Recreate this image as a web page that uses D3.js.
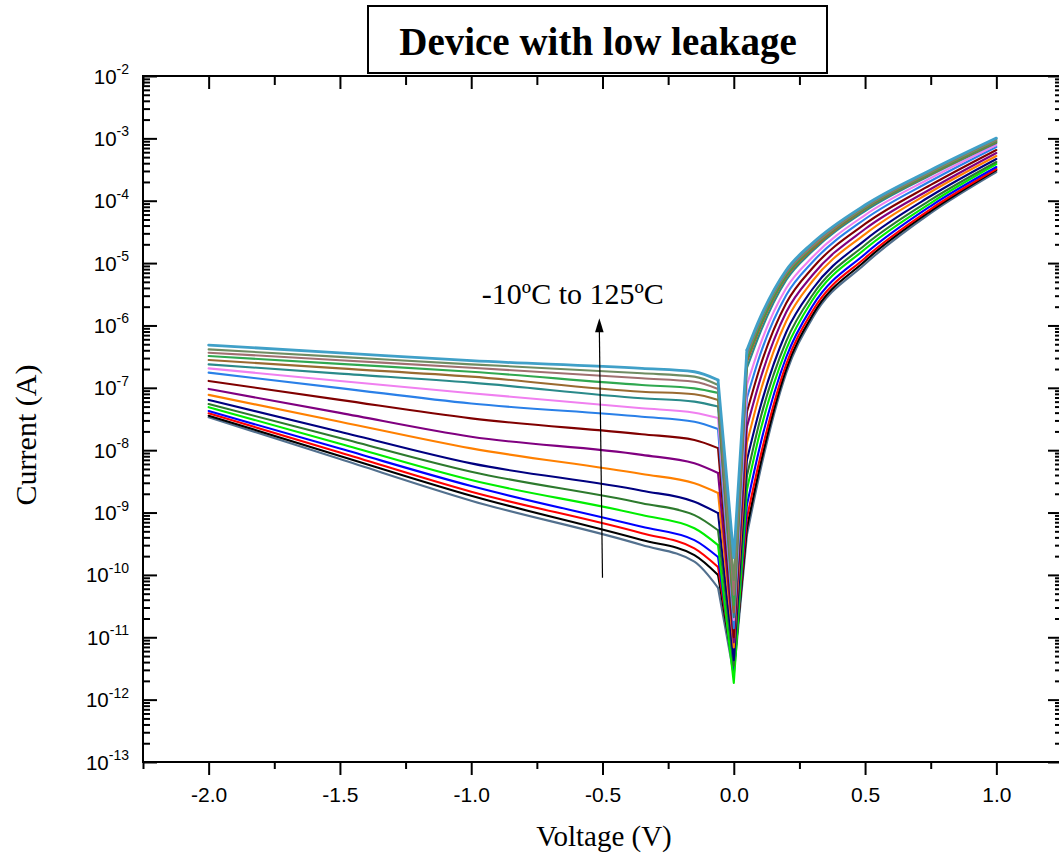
<!DOCTYPE html>
<html>
<head>
<meta charset="utf-8">
<script src="https://cdn.jsdelivr.net/npm/d3@7"></script>
<style>
  html, body { margin: 0; padding: 0; background: #fff; }
  svg { display: block; }
</style>
</head>
<body>
<svg id="chart" width="1059" height="855"></svg>
<script>
// ---------------- DATA ----------------
const title = "Device with low leakage";
const xTitle = "Voltage (V)";
const yTitle = "Current (A)";
const annotationText = "-10ºC to 125ºC";

// Voltage sample points (V)
const voltage = [-2.0, -1.5, -1.0, -0.35, -0.15, -0.06, 0, 0.05, 0.1, 0.2, 0.3, 0.5, 0.75, 1.0];

// Currents (A), one curve per temperature, coldest (-10ºC) first, hottest (125ºC) last
const c01 = [3.37e-8, 7.2e-9, 1.55e-9, 3.01e-10, 1.63e-10, 6.2e-11, 2.5e-12, 4.36e-10, 4.47e-9, 1.73e-7, 1.32e-6, 9.66e-6, 6.35e-5, 2.89e-4];
const c02 = [3.57e-8, 8.1e-9, 1.86e-9, 3.62e-10, 2.08e-10, 1.0e-10, 3.0e-12, 5.65e-10, 5.57e-9, 2.0e-7, 1.47e-6, 1.08e-5, 6.84e-5, 3.11e-4];
const c03 = [3.9e-8, 9.2e-9, 2.16e-9, 4.65e-10, 2.67e-10, 1.34e-10, 3.2e-12, 8.17e-10, 7.48e-9, 2.41e-7, 1.71e-6, 1.21e-5, 7.36e-5, 3.23e-4];
const c04 = [4.25e-8, 1.06e-8, 2.66e-9, 5.9e-10, 3.62e-10, 1.94e-10, 2.7e-12, 1.32e-9, 1.17e-8, 3.12e-7, 2.05e-6, 1.40e-5, 8.23e-5, 3.47e-4];
const c05 = [4.9e-8, 1.27e-8, 3.32e-9, 9.1e-10, 5.6e-10, 3.01e-10, 1.85e-12, 2.30e-9, 1.95e-8, 4.19e-7, 2.56e-6, 1.68e-5, 9.19e-5, 3.88e-4];
const c06 = [5.5e-8, 1.57e-8, 4.52e-9, 1.41e-9, 9.1e-10, 5.2e-10, 3.5e-12, 3.85e-9, 3.05e-8, 5.62e-7, 3.08e-6, 1.95e-5, 1.03e-4, 4.18e-4];
const c07 = [6.4e-8, 1.98e-8, 6.15e-9, 2.24e-9, 1.49e-9, 9.8e-10, 4.3e-12, 6.95e-9, 4.74e-8, 7.85e-7, 3.84e-6, 2.34e-5, 1.19e-4, 4.67e-4];
const c08 = [7.7e-8, 2.86e-8, 1.07e-8, 4.15e-9, 2.94e-9, 2.06e-9, 6.9e-12, 1.30e-8, 8.26e-8, 1.18e-6, 5.16e-6, 2.92e-5, 1.38e-4, 5.21e-4];
const c09 = [9.6e-8, 3.96e-8, 1.64e-8, 8.4e-9, 6.15e-9, 4.3e-9, 8.3e-12, 2.35e-8, 1.33e-7, 1.64e-6, 6.44e-6, 3.52e-5, 1.54e-4, 5.82e-4];
const c10 = [1.29e-7, 6.4e-8, 3.24e-8, 1.80e-8, 1.46e-8, 1.08e-8, 1.0e-11, 4.09e-8, 2.16e-7, 2.29e-6, 8.34e-6, 4.24e-5, 1.79e-4, 6.51e-4];
const c11 = [1.75e-7, 9.9e-8, 5.6e-8, 3.44e-8, 2.86e-8, 2.18e-8, 1.4e-11, 6.86e-8, 3.36e-7, 3.08e-6, 1.04e-5, 5.09e-5, 2.07e-4, 7.27e-4];
const c12 = [2.05e-7, 1.29e-7, 8.2e-8, 4.69e-8, 3.99e-8, 3.28e-8, 1.9e-11, 1.11e-7, 4.85e-7, 3.98e-6, 1.25e-5, 5.90e-5, 2.31e-4, 7.83e-4];
const c13 = [2.38e-7, 1.69e-7, 1.21e-7, 6.8e-8, 6.0e-8, 5.0e-8, 2.1e-11, 2.08e-7, 7.57e-7, 5.36e-6, 1.56e-5, 6.84e-5, 2.58e-4, 8.43e-4];
const c14 = [2.79e-7, 2.05e-7, 1.51e-7, 8.65e-8, 7.9e-8, 6.4e-8, 2.5e-11, 2.59e-7, 9.1e-7, 5.98e-6, 1.68e-5, 7.36e-5, 2.68e-4, 8.74e-4];
const c15 = [3.24e-7, 2.42e-7, 1.81e-7, 1.11e-7, 9.8e-8, 8.3e-8, 3.3e-11, 3.01e-7, 1.02e-6, 6.44e-6, 1.81e-5, 7.64e-5, 2.78e-4, 9.07e-4];
const c16 = [3.66e-7, 2.77e-7, 2.10e-7, 1.42e-7, 1.25e-7, 9.6e-8, 4.8e-11, 3.36e-7, 1.14e-6, 6.93e-6, 1.88e-5, 7.93e-5, 2.89e-4, 9.42e-4];
const c17 = [4.14e-7, 3.14e-7, 2.38e-7, 1.71e-7, 1.51e-7, 1.11e-7, 8.3e-11, 3.75e-7, 1.22e-6, 7.46e-6, 2.02e-5, 8.23e-5, 3.0e-4, 9.77e-4];
const c18 = [4.85e-7, 3.63e-7, 2.72e-7, 2.05e-7, 1.81e-7, 1.33e-7, 1.9e-10, 4.04e-7, 1.32e-6, 7.75e-6, 2.10e-5, 8.53e-5, 3.11e-4, 1.01e-3];

const curves = [c01, c02, c03, c04, c05, c06, c07, c08, c09, c10, c11, c12, c13, c14, c15, c16, c17, c18];
const curveColors = ["#52708e", "#000000", "#ff0000", "#0000ff", "#00ee00", "#2d7a2d", "#000080", "#ff8000",
                     "#800080", "#800000", "#2a80e8", "#f080f0", "#2a8a8a", "#9a6a30", "#30a850", "#a07070",
                     "#6f8c62", "#40a0c8"];

// Axis ticks
const xMajorTicks = [-2.0, -1.5, -1.0, -0.5, 0.0, 0.5, 1.0];
const xTickLabels = ["-2.0", "-1.5", "-1.0", "-0.5", "0.0", "0.5", "1.0"];
const xMinorTicks = [-2.25, -1.75, -1.25, -0.75, -0.25, 0.25, 0.75, 1.25];
const yExponents = [-2, -3, -4, -5, -6, -7, -8, -9, -10, -11, -12, -13];

// Annotation arrow (data coordinates)
const arrowFrom = {v: -0.5, i: 9e-11};
const arrowTo = {v: -0.512, i: 1.3e-6};
const annotationAt = {v: -0.613, i: 2.2e-6};

// ---------------- LAYOUT ----------------
const svg = d3.select("#chart");
const L = 143, R = 1062, T = 76, B = 762;
const x = d3.scaleLinear().domain([-2.25, 1.25]).range([L, R]);
const y = d3.scaleLog().domain([1e-13, 1e-2]).range([B, T]);

svg.append("rect").attr("width", 1059).attr("height", 855).attr("fill", "#fff");

const yMajor = yExponents.map(e => Math.pow(10, e));
const yMinorTicks = [];
for (let e = -13; e <= -3; e++) for (let m = 2; m <= 9; m++) yMinorTicks.push(m * Math.pow(10, e));

function styleAxis(g) {
  g.selectAll("path.domain").remove();
  g.selectAll("line").attr("stroke", "#000").attr("stroke-width", 2);
}

// Left axis
svg.append("g").attr("transform", `translate(${L},0)`)
  .call(d3.axisLeft(y).tickValues(yMajor).tickSize(-14).tickFormat("")).call(styleAxis);
svg.append("g").attr("transform", `translate(${L},0)`)
  .call(d3.axisLeft(y).tickValues(yMinorTicks).tickSize(-7).tickFormat("")).call(styleAxis);
// Right axis
svg.append("g").attr("transform", `translate(${R},0)`)
  .call(d3.axisRight(y).tickValues(yMajor).tickSize(-14).tickFormat("")).call(styleAxis);
svg.append("g").attr("transform", `translate(${R},0)`)
  .call(d3.axisRight(y).tickValues(yMinorTicks).tickSize(-7).tickFormat("")).call(styleAxis);
// Bottom axis
const gb = svg.append("g").attr("transform", `translate(0,${B})`)
  .call(d3.axisBottom(x).tickValues(xMajorTicks).tickSize(13).tickPadding(12)
        .tickFormat((d, i) => xTickLabels[i]));
gb.call(styleAxis);
gb.selectAll("text").attr("font-family", "Liberation Sans, Arial, sans-serif")
  .attr("font-size", 21).attr("fill", "#000");
svg.append("g").attr("transform", `translate(0,${B})`)
  .call(d3.axisBottom(x).tickValues(xMinorTicks).tickSize(7).tickFormat("")).call(styleAxis);
// Top axis
svg.append("g").attr("transform", `translate(0,${T})`)
  .call(d3.axisTop(x).tickValues(xMajorTicks).tickSize(-13).tickFormat("")).call(styleAxis);
svg.append("g").attr("transform", `translate(0,${T})`)
  .call(d3.axisTop(x).tickValues(xMinorTicks).tickSize(-9).tickFormat("")).call(styleAxis);

// Frame
svg.append("rect").attr("x", L).attr("y", T).attr("width", R - L).attr("height", B - T)
  .attr("fill", "none").attr("stroke", "#000").attr("stroke-width", 2);

// Y tick labels 10^e
const yl = svg.append("g").attr("font-family", "Liberation Sans, Arial, sans-serif").attr("fill", "#000");
yExponents.forEach(e => {
  const t = yl.append("text").attr("x", 129).attr("y", y(Math.pow(10, e)) + 7.5).attr("text-anchor", "end");
  t.append("tspan").attr("font-size", 20.5).text("10");
  t.append("tspan").attr("font-size", 14).attr("dy", -9.5).text(String(e));
});

// ---------------- CURVES ----------------
const pts = arr => arr.map((c, i) => [x(voltage[i]), y(c)]);
const smooth = d3.line().curve(d3.curveMonotoneX);
const straight = d3.line();
const gc = svg.append("g").attr("fill", "none").attr("stroke-linejoin", "round").attr("stroke-linecap", "round");
curves.forEach((arr, k) => {
  const p = pts(arr);
  const w = k === curves.length - 1 ? 2.8 : 2.1;
  const col = curveColors[k];
  gc.append("path").attr("d", smooth(p.slice(0, 6))).attr("stroke", col).attr("stroke-width", w);
  gc.append("path").attr("d", straight(p.slice(5, 8))).attr("stroke", col).attr("stroke-width", w);
  gc.append("path").attr("d", smooth(p.slice(7))).attr("stroke", col).attr("stroke-width", w);
});

// ---------------- ANNOTATION ----------------
const ax1 = x(arrowFrom.v), ay1 = y(arrowFrom.i), ax2 = x(arrowTo.v), ay2 = y(arrowTo.i);
svg.append("line").attr("x1", ax1).attr("y1", ay1).attr("x2", ax2).attr("y2", ay2 + 12)
  .attr("stroke", "#000").attr("stroke-width", 1.2);
svg.append("path")
  .attr("d", `M${ax2},${ay2} L${ax2 - 4.3},${ay2 + 14} L${ax2 + 4.3},${ay2 + 14} Z`)
  .attr("fill", "#000");
svg.append("text").attr("x", x(annotationAt.v)).attr("y", y(annotationAt.i))
  .attr("text-anchor", "middle").attr("font-family", "Liberation Serif, Times New Roman, serif")
  .attr("font-size", 30).attr("fill", "#000").text(annotationText);

// ---------------- TITLES ----------------
svg.append("rect").attr("x", 368).attr("y", 6).attr("width", 459).attr("height", 67)
  .attr("fill", "#fff").attr("stroke", "#000").attr("stroke-width", 2);
svg.append("text").attr("x", 598).attr("y", 55).attr("text-anchor", "middle")
  .attr("font-family", "Liberation Serif, Times New Roman, serif").attr("font-weight", "bold")
  .attr("font-size", 39).attr("fill", "#000").text(title);

svg.append("text").attr("x", 604).attr("y", 846).attr("text-anchor", "middle")
  .attr("font-family", "Liberation Serif, Times New Roman, serif")
  .attr("font-size", 29).attr("fill", "#000").text(xTitle);

svg.append("text").attr("transform", "translate(36,435) rotate(-90)").attr("text-anchor", "middle")
  .attr("font-family", "Liberation Serif, Times New Roman, serif")
  .attr("font-size", 30).attr("fill", "#000").text(yTitle);
</script>
</body>
</html>
